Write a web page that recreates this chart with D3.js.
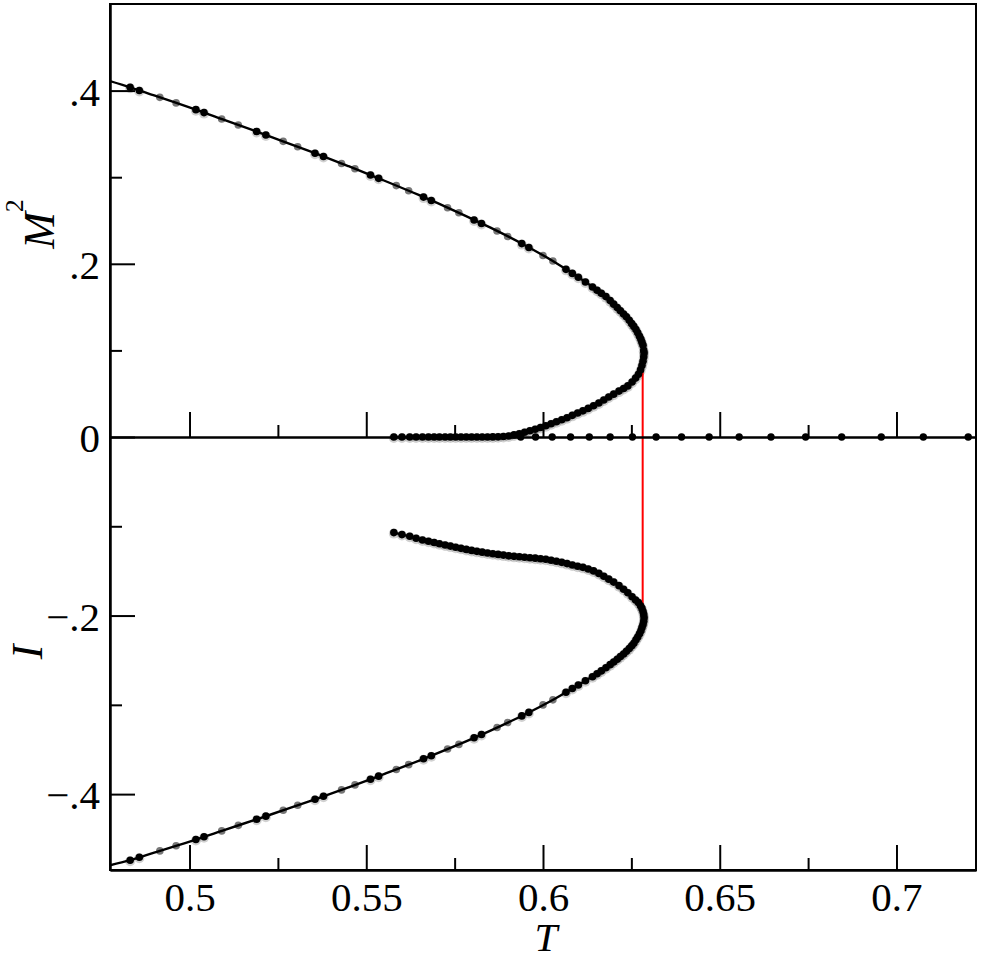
<!DOCTYPE html>
<html>
<head>
<meta charset="utf-8">
<script src="https://cdn.jsdelivr.net/npm/d3@7"></script>
<style>
  body { margin: 0; background: #fff; }
  svg { display: block; }
  svg text { font-family: "Liberation Serif", "Times New Roman", Times, "Nimbus Roman", Tinos, serif; }
</style>
</head>
<body>
<div class="canvas"></div>
<script>
// theory curve: stable branch up to the turning point, then the unstable branch back to T=0.558
const lineT = [0.4775, 0.4832, 0.4900, 0.5018, 0.5100, 0.5190, 0.5270, 0.5355, 0.5450, 0.5550, 0.5650,
  0.5750, 0.5850, 0.5950, 0.6030, 0.6114, 0.6180, 0.6237, 0.6262, 0.6276, 0.6283, 0.6286,
  0.6283, 0.6276, 0.6262, 0.6238, 0.6199, 0.6160, 0.6106, 0.6060, 0.6012, 0.5965, 0.5917, 0.5880,
  0.5823, 0.5775, 0.5729, 0.5690, 0.5655, 0.5623, 0.5601, 0.5580];
const lineM2 = [0.4110, 0.4038, 0.3944, 0.3780, 0.3659, 0.3527, 0.3406, 0.3277, 0.3127, 0.2962, 0.2792,
  0.2612, 0.2420, 0.2212, 0.2027, 0.1808, 0.1615, 0.1385, 0.1250, 0.1140, 0.1060, 0.0970,
  0.0870, 0.0770, 0.0675, 0.0580, 0.0490, 0.0395, 0.0290, 0.0212, 0.0135, 0.0075, 0.0020, 0.0004,
  0.0001, 0, 0, 0, 0, 0, 0, 0];
const lineI = [-0.4797, -0.4740, -0.4655, -0.4509, -0.4400, -0.4282, -0.4174, -0.4058, -0.3924, -0.3776, -0.3624,
  -0.3463, -0.3291, -0.3105, -0.2940, -0.2745, -0.2578, -0.2400, -0.2280, -0.2178, -0.2100, -0.2025,
  -0.1955, -0.1890, -0.1825, -0.1740, -0.1622, -0.1528, -0.1458, -0.1412, -0.1372, -0.1352, -0.1337, -0.1320,
  -0.1290, -0.1255, -0.1213, -0.1180, -0.1149, -0.1112, -0.1093, -0.1071];

// black symbols (same sweep gives T, M^2 and I)
const blackT = [0.4832, 0.4858, 0.5018, 0.5041, 0.5190, 0.5216, 0.5355, 0.5379, 0.5512, 0.5535,
  0.5662, 0.5684, 0.5805, 0.5826, 0.5940, 0.5960, 0.6065, 0.6083, 0.6100, 0.6120, 0.6140, 0.6153,
  0.6165, 0.6178, 0.6190, 0.6200, 0.6210, 0.6219, 0.6228, 0.6236, 0.6244, 0.6251, 0.6257, 0.6263,
  0.6268, 0.6273, 0.6277, 0.6280, 0.6283, 0.6285,
  0.6286, 0.6285, 0.6283, 0.6280, 0.6276, 0.6270, 0.6262, 0.6252, 0.6240, 0.6228, 0.6215, 0.6200,
  0.6186, 0.6172, 0.6158, 0.6143, 0.6128, 0.6113, 0.6098, 0.6083, 0.6068, 0.6053, 0.6038, 0.6023,
  0.6008, 0.5993, 0.5978, 0.5963, 0.5948, 0.5933, 0.5918, 0.5903, 0.5888, 0.5873, 0.5858, 0.5843,
  0.5828, 0.5813, 0.5798, 0.5783, 0.5768, 0.5753, 0.5738, 0.5723, 0.5707, 0.5692, 0.5676, 0.5659,
  0.5641, 0.5623, 0.5601, 0.5578];
const blackM2 = [0.4038, 0.4002, 0.3780, 0.3746, 0.3527, 0.3488, 0.3277, 0.3239, 0.3025, 0.2987,
  0.2770, 0.2731, 0.2506, 0.2466, 0.2233, 0.2189, 0.1936, 0.1889, 0.1845, 0.1790, 0.1732, 0.1694,
  0.1659, 0.1621, 0.1575, 0.1534, 0.1494, 0.1458, 0.1421, 0.1389, 0.1347, 0.1309, 0.1277, 0.1242,
  0.1203, 0.1164, 0.1129, 0.1094, 0.1060, 0.1000,
  0.0970, 0.0925, 0.0875, 0.0825, 0.0775, 0.0725, 0.0680, 0.0635, 0.0590, 0.0560, 0.0530, 0.0495,
  0.0462, 0.0428, 0.0392, 0.0360, 0.0330, 0.0302, 0.0277, 0.0250, 0.0223, 0.0199, 0.0176, 0.0153,
  0.0130, 0.0110, 0.0090, 0.0072, 0.0055, 0.0038, 0.0024, 0.0012, 0.0005, 0.0002, 0.0001, 0,
  0, 0, 0, 0, 0, 0, 0, 0, 0, 0, 0, 0,
  0, 0, 0, 0];
const blackI = [-0.4740, -0.4708, -0.4509, -0.4478, -0.4282, -0.4247, -0.4058, -0.4024, -0.3833, -0.3799,
  -0.3604, -0.3570, -0.3368, -0.3332, -0.3124, -0.3085, -0.2859, -0.2817, -0.2778, -0.2730, -0.2685, -0.2651,
  -0.2620, -0.2585, -0.2550, -0.2520, -0.2490, -0.2460, -0.2430, -0.2400, -0.2370, -0.2338, -0.2310, -0.2272,
  -0.2240, -0.2205, -0.2170, -0.2135, -0.2100, -0.2065,
  -0.2025, -0.1990, -0.1955, -0.1920, -0.1890, -0.1855, -0.1825, -0.1790, -0.1745, -0.1706, -0.1665, -0.1625,
  -0.1592, -0.1560, -0.1528, -0.1500, -0.1478, -0.1460, -0.1448, -0.1433, -0.1418, -0.1404, -0.1392, -0.1380,
  -0.1370, -0.1363, -0.1357, -0.1352, -0.1347, -0.1342, -0.1337, -0.1331, -0.1323, -0.1315, -0.1307, -0.1299,
  -0.1290, -0.1281, -0.1270, -0.1259, -0.1247, -0.1235, -0.1222, -0.1209, -0.1195, -0.1182, -0.1168, -0.1153,
  -0.1134, -0.1112, -0.1093, -0.1071];

// grey symbols (second data set, stable branch)
const grayT = [0.4916, 0.4962, 0.5091, 0.5138, 0.5265, 0.5306, 0.5430, 0.5468, 0.5585, 0.5620,
  0.5730, 0.5762, 0.5870, 0.5900, 0.6000, 0.6028];
const grayM2 = [0.3922, 0.3858, 0.3672, 0.3603, 0.3414, 0.3351, 0.3159, 0.3097, 0.2903, 0.2843,
  0.2648, 0.2589, 0.2378, 0.2316, 0.2096, 0.2032];
const grayI = [-0.4636, -0.4578, -0.4412, -0.4350, -0.4181, -0.4125, -0.3953, -0.3897, -0.3724, -0.3670,
  -0.3495, -0.3443, -0.3254, -0.3198, -0.3001, -0.2944];

// disordered phase, M^2 = 0
const zeroT = [0.5937, 0.5979, 0.6026, 0.6078, 0.6131, 0.6190, 0.6253, 0.6320, 0.6392, 0.6470,
  0.6555, 0.6645, 0.6743, 0.6845, 0.6957, 0.7076, 0.7203];

// transition line
const jumpT = 0.6282;
const jumpM2 = 0.1;
const jumpI = -0.2;

// ticks
const xMajor = [0.5, 0.55, 0.6, 0.65, 0.7];
const xMinor = [0.525, 0.575, 0.625, 0.675];
const m2Major = [0, 0.2, 0.4];
const m2Minor = [0.1, 0.3];
const iMajor = [-0.2, -0.4];
const iMinor = [-0.1, -0.3];

const dims = { width: 982, height: 961 };
const plot = { left: 110, right: 976, top: 4, mid: 437, bottom: 870 };
const font = '"Liberation Serif", "Times New Roman", Times, "Nimbus Roman", Tinos, serif';

const svg = d3
  .select(".canvas")
  .append("svg")
  .attr("width", dims.width)
  .attr("height", dims.height);

const x = d3.scaleLinear().domain([0.4775, 0.7225]).range([plot.left, plot.right]);
const yTop = d3.scaleLinear().domain([0, 0.5]).range([plot.mid, plot.top]);
const yBot = d3.scaleLinear().domain([-0.485, 0]).range([plot.bottom, plot.mid]);

const fmt = (d) => (d === 0 ? "0" : d3.format(".1f")(d).replace("0.", "."));

// build point objects from the arrays
const linePts = lineT.map((t, k) => ({ t, m2: lineM2[k], i: lineI[k] }));
const blackPts = blackT.map((t, k) => ({ t, m2: blackM2[k], i: blackI[k] }));
const grayPts = grayT.map((t, k) => ({ t, m2: grayM2[k], i: grayI[k] }));

svg
  .append("clipPath")
  .attr("id", "clip")
  .append("rect")
  .attr("x", plot.left)
  .attr("y", plot.top)
  .attr("width", plot.right - plot.left)
  .attr("height", plot.bottom - plot.top);

const graph = svg.append("g").attr("clip-path", "url(#clip)");

//soft shadow under the black symbols
const halo = (sel, cy) =>
  sel
    .attr("cx", (d) => x(d.t))
    .attr("cy", cy)
    .attr("r", 5)
    .attr("fill", "#000")
    .attr("fill-opacity", 0.18);

graph.selectAll("circle.haloTop").data(blackPts).enter().append("circle")
  .attr("class", "haloTop").call(halo, (d) => yTop(d.m2) + 1);
graph.selectAll("circle.haloBot").data(blackPts).enter().append("circle")
  .attr("class", "haloBot").call(halo, (d) => yBot(d.i) + 1);

//grey symbols
graph
  .selectAll("circle.grayTop")
  .data(grayPts)
  .enter()
  .append("circle")
  .attr("class", "grayTop")
  .attr("cx", (d) => x(d.t))
  .attr("cy", (d) => yTop(d.m2))
  .attr("r", 3.8)
  .attr("fill", "#777");

graph
  .selectAll("circle.grayBot")
  .data(grayPts)
  .enter()
  .append("circle")
  .attr("class", "grayBot")
  .attr("cx", (d) => x(d.t))
  .attr("cy", (d) => yBot(d.i))
  .attr("r", 3.8)
  .attr("fill", "#777");

//theory lines
const lineTop = d3
  .line()
  .x((d) => x(d.t))
  .y((d) => yTop(d.m2))
  .curve(d3.curveCatmullRom.alpha(0.5));

const lineBot = d3
  .line()
  .x((d) => x(d.t))
  .y((d) => yBot(d.i))
  .curve(d3.curveCatmullRom.alpha(0.5));

graph
  .append("path")
  .datum(linePts)
  .attr("d", lineTop)
  .attr("fill", "none")
  .attr("stroke", "#000")
  .attr("stroke-width", 2.4);

graph
  .append("path")
  .datum(linePts)
  .attr("d", lineBot)
  .attr("fill", "none")
  .attr("stroke", "#000")
  .attr("stroke-width", 2.4);

//red transition line
graph
  .append("line")
  .attr("x1", x(jumpT))
  .attr("x2", x(jumpT))
  .attr("y1", yTop(jumpM2))
  .attr("y2", yBot(jumpI))
  .attr("stroke", "#ff0000")
  .attr("stroke-width", 2);

//axes
const styleAxis = (g) => {
  g.attr("font-family", null).attr("font-size", null);
  g.selectAll("path.domain").attr("stroke", "#000").attr("stroke-width", 2);
  g.selectAll(".tick line").attr("stroke", "#000").attr("stroke-width", 2);
  g.selectAll("text")
    .attr("fill", "#000")
    .style("font-family", font)
    .style("font-size", "41px");
};

// bottom axis with labels
svg
  .append("g")
  .attr("transform", `translate(0,${plot.bottom})`)
  .call(d3.axisBottom(x).tickValues(xMajor).tickSizeInner(-25).tickSizeOuter(0).tickPadding(12).tickFormat((d) => String(d)))
  .call(styleAxis);

svg
  .append("g")
  .attr("transform", `translate(0,${plot.bottom})`)
  .call(d3.axisBottom(x).tickValues(xMinor).tickSizeInner(-12).tickSizeOuter(0).tickFormat(""))
  .call(styleAxis);

// zero line: bottom axis of the M^2 panel
svg
  .append("g")
  .attr("transform", `translate(0,${plot.mid})`)
  .call(d3.axisBottom(x).tickValues(xMajor).tickSizeInner(-25).tickSizeOuter(0).tickFormat(""))
  .call(styleAxis);

svg
  .append("g")
  .attr("transform", `translate(0,${plot.mid})`)
  .call(d3.axisBottom(x).tickValues(xMinor).tickSizeInner(-12).tickSizeOuter(0).tickFormat(""))
  .call(styleAxis);

// left axes
svg
  .append("g")
  .attr("transform", `translate(${plot.left},0)`)
  .call(d3.axisLeft(yTop).tickValues(m2Major).tickSizeInner(-25).tickSizeOuter(0).tickPadding(10).tickFormat(fmt))
  .call(styleAxis)
  .selectAll("text")
  .attr("dy", "0.36em");

svg
  .append("g")
  .attr("transform", `translate(${plot.left},0)`)
  .call(d3.axisLeft(yTop).tickValues(m2Minor).tickSizeInner(-12).tickSizeOuter(0).tickFormat(""))
  .call(styleAxis);

svg
  .append("g")
  .attr("transform", `translate(${plot.left},0)`)
  .call(d3.axisLeft(yBot).tickValues(iMajor).tickSizeInner(-25).tickSizeOuter(0).tickPadding(10).tickFormat(fmt))
  .call(styleAxis)
  .selectAll("text")
  .attr("dy", "0.36em");

svg
  .append("g")
  .attr("transform", `translate(${plot.left},0)`)
  .call(d3.axisLeft(yBot).tickValues(iMinor).tickSizeInner(-12).tickSizeOuter(0).tickFormat(""))
  .call(styleAxis);

//frame
svg
  .append("rect")
  .attr("x", plot.left)
  .attr("y", plot.top)
  .attr("width", plot.right - plot.left)
  .attr("height", plot.bottom - plot.top)
  .attr("fill", "none")
  .attr("stroke", "#000")
  .attr("stroke-width", 2);

//black symbols on top
const dots = svg.append("g").attr("clip-path", "url(#clip)");

dots
  .selectAll("circle.zero")
  .data(zeroT)
  .enter()
  .append("circle")
  .attr("class", "zero")
  .attr("cx", (d) => x(d))
  .attr("cy", yTop(0))
  .attr("r", 3.7)
  .attr("fill", "#000");

dots
  .selectAll("circle.blackTop")
  .data(blackPts)
  .enter()
  .append("circle")
  .attr("class", "blackTop")
  .attr("cx", (d) => x(d.t))
  .attr("cy", (d) => yTop(d.m2))
  .attr("r", 3.8)
  .attr("fill", "#000");

dots
  .selectAll("circle.blackBot")
  .data(blackPts)
  .enter()
  .append("circle")
  .attr("class", "blackBot")
  .attr("cx", (d) => x(d.t))
  .attr("cy", (d) => yBot(d.i))
  .attr("r", 3.8)
  .attr("fill", "#000");

//axis titles
svg
  .append("text")
  .attr("x", (plot.left + plot.right) / 2 + 3)
  .attr("y", 951)
  .attr("text-anchor", "middle")
  .style("font-style", "italic")
  .style("font-size", "41px")
  .text("T");

const m2Label = svg
  .append("text")
  .attr("transform", "translate(54,224) rotate(-90)")
  .attr("text-anchor", "middle")
  .style("font-size", "44px");

m2Label.append("tspan").style("font-style", "italic").text("M");
m2Label.append("tspan").style("font-size", "26px").attr("dy", -31).text("2");

svg
  .append("text")
  .attr("transform", "translate(42,652) rotate(-90)")
  .attr("text-anchor", "middle")
  .style("font-style", "italic")
  .style("font-size", "44px")
  .text("I");
</script>
</body>
</html>
